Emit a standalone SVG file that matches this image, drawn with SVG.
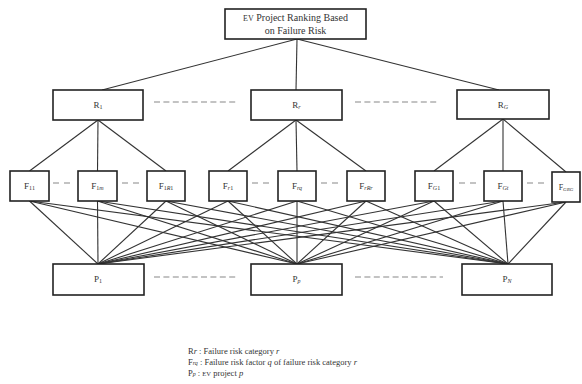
<svg xmlns="http://www.w3.org/2000/svg" width="582" height="384" viewBox="0 0 582 384">
<style>
.box{fill:#fff;stroke:#222;stroke-width:1.6}
.ln{stroke:#333;stroke-width:1.1;fill:none}
.dash{stroke:#888;stroke-width:1.2;stroke-dasharray:6 3.4;fill:none}
.dash2{stroke:#888;stroke-width:1.2;stroke-dasharray:6 5;fill:none}
text{font-family:"Liberation Serif","Times New Roman",serif;fill:#333}
.lbl{font-size:9px;text-anchor:middle}
.sub{font-size:6px}
.it{font-style:italic}
.leg{font-size:8.5px}
</style>
<rect width="582" height="384" fill="#fff"/>
<g id="connectors">
<line class="ln" x1="297" y1="39" x2="102" y2="90"/>
<line class="ln" x1="297" y1="39" x2="296" y2="90"/>
<line class="ln" x1="297" y1="39" x2="499" y2="90"/>
<line class="ln" x1="98" y1="120" x2="29.5" y2="171"/>
<line class="ln" x1="98" y1="120" x2="97.5" y2="171"/>
<line class="ln" x1="98" y1="120" x2="166" y2="171"/>
<line class="ln" x1="296" y1="120" x2="228" y2="171"/>
<line class="ln" x1="296" y1="120" x2="297" y2="171"/>
<line class="ln" x1="296" y1="120" x2="366" y2="171"/>
<line class="ln" x1="503" y1="119" x2="434" y2="171"/>
<line class="ln" x1="503" y1="119" x2="503" y2="171"/>
<line class="ln" x1="503" y1="119" x2="566" y2="172"/>
<g>
<line class="ln" x1="29.5" y1="201" x2="98" y2="264"/><line class="ln" x1="29.5" y1="201" x2="297" y2="264"/><line class="ln" x1="29.5" y1="201" x2="508" y2="264"/>
<line class="ln" x1="97.5" y1="201" x2="98" y2="264"/><line class="ln" x1="97.5" y1="201" x2="297" y2="264"/><line class="ln" x1="97.5" y1="201" x2="508" y2="264"/>
<line class="ln" x1="166" y1="201" x2="98" y2="264"/><line class="ln" x1="166" y1="201" x2="297" y2="264"/><line class="ln" x1="166" y1="201" x2="508" y2="264"/>
<line class="ln" x1="228" y1="201" x2="98" y2="264"/><line class="ln" x1="228" y1="201" x2="297" y2="264"/><line class="ln" x1="228" y1="201" x2="508" y2="264"/>
<line class="ln" x1="297" y1="201" x2="98" y2="264"/><line class="ln" x1="297" y1="201" x2="297" y2="264"/><line class="ln" x1="297" y1="201" x2="508" y2="264"/>
<line class="ln" x1="366" y1="201" x2="98" y2="264"/><line class="ln" x1="366" y1="201" x2="297" y2="264"/><line class="ln" x1="366" y1="201" x2="508" y2="264"/>
<line class="ln" x1="434" y1="201" x2="98" y2="264"/><line class="ln" x1="434" y1="201" x2="297" y2="264"/><line class="ln" x1="434" y1="201" x2="508" y2="264"/>
<line class="ln" x1="503" y1="201" x2="98" y2="264"/><line class="ln" x1="503" y1="201" x2="297" y2="264"/><line class="ln" x1="503" y1="201" x2="508" y2="264"/>
<line class="ln" x1="566" y1="202" x2="98" y2="264"/><line class="ln" x1="566" y1="202" x2="297" y2="264"/><line class="ln" x1="566" y1="202" x2="508" y2="264"/>
</g>
<line class="dash" x1="154" y1="102" x2="238" y2="102"/>
<line class="dash" x1="355" y1="102" x2="439" y2="102"/>
<line class="dash2" x1="53" y1="183" x2="70" y2="183"/>
<line class="dash2" x1="122" y1="183" x2="139" y2="183"/>
<line class="dash2" x1="252" y1="183" x2="269" y2="183"/>
<line class="dash2" x1="321" y1="183" x2="338" y2="183"/>
<line class="dash2" x1="459" y1="183" x2="476" y2="183"/>
<line class="dash2" x1="527" y1="183" x2="544" y2="183"/>
<line class="dash" x1="154" y1="277" x2="238" y2="277"/>
<line class="dash" x1="355" y1="277" x2="443" y2="277"/>
</g>
<g id="goal">
<rect class="box" x="225" y="9" width="141" height="30"/>
<text class="lbl" x="295.5" y="21" style="font-size:10px"><tspan style="font-size:8px">EV</tspan> Project Ranking Based</text>
<text class="lbl" x="295.5" y="34" style="font-size:10px">on Failure Risk</text>
</g>
<g id="R1"><rect class="box" x="53" y="90" width="90" height="30"/><text class="lbl" x="98" y="108">R<tspan class="sub" dy="1">1</tspan></text></g>
<g id="Rr"><rect class="box" x="251" y="90" width="91" height="30"/><text class="lbl" x="296.5" y="108">R<tspan class="sub it" dy="1">r</tspan></text></g>
<g id="RG"><rect class="box" x="457" y="90" width="92" height="29"/><text class="lbl" x="503" y="108">R<tspan class="sub it" dy="1">G</tspan></text></g>
<g id="F11"><rect class="box" x="10" y="171" width="39" height="30"/><text class="lbl" x="29.5" y="189">F<tspan class="sub" dy="1">11</tspan></text></g>
<g id="F1m"><rect class="box" x="78" y="171" width="39" height="30"/><text class="lbl" x="97.5" y="189">F<tspan class="sub" dy="1">1<tspan class="it">m</tspan></tspan></text></g>
<g id="F1R1"><rect class="box" x="147" y="171" width="38" height="30"/><text class="lbl" x="166" y="189">F<tspan class="sub" dy="1">1<tspan class="it">R</tspan>1</tspan></text></g>
<g id="Fr1"><rect class="box" x="209" y="171" width="38" height="30"/><text class="lbl" x="228" y="189">F<tspan class="sub" dy="1"><tspan class="it">r</tspan>1</tspan></text></g>
<g id="Frq"><rect class="box" x="278" y="171" width="38" height="30"/><text class="lbl" x="297" y="189">F<tspan class="sub it" dy="1">rq</tspan></text></g>
<g id="FrRr"><rect class="box" x="347" y="171" width="38" height="30"/><text class="lbl" x="366" y="189">F<tspan class="sub it" dy="1">rRr</tspan></text></g>
<g id="FG1"><rect class="box" x="415" y="171" width="38" height="30"/><text class="lbl" x="434" y="189">F<tspan class="sub" dy="1"><tspan class="it">G</tspan>1</tspan></text></g>
<g id="FGt"><rect class="box" x="484" y="171" width="38" height="30"/><text class="lbl" x="503" y="189">F<tspan class="sub it" dy="1">Gt</tspan></text></g>
<g id="FGRG"><rect class="box" x="552" y="172" width="28" height="30"/><text class="lbl" x="566" y="190" style="font-size:8px">F<tspan class="it" style="font-size:5px" dy="1">GRG</tspan></text></g>
<g id="P1"><rect class="box" x="53" y="264" width="91" height="31"/><text class="lbl" x="98" y="282">P<tspan class="sub" dy="1">1</tspan></text></g>
<g id="Pp"><rect class="box" x="251" y="264" width="91" height="31"/><text class="lbl" x="296.5" y="282">P<tspan class="sub it" dy="1">p</tspan></text></g>
<g id="PN"><rect class="box" x="462" y="264" width="90" height="31"/><text class="lbl" x="507" y="282">P<tspan class="sub it" dy="1">N</tspan></text></g>
<g id="legend">
<text class="leg" x="188" y="354">R<tspan class="it">r</tspan> : Failure risk category <tspan class="it">r</tspan></text>
<text class="leg" x="188" y="365">F<tspan class="sub it">rq</tspan> : Failure risk factor <tspan class="it">q</tspan> of failure risk category <tspan class="it">r</tspan></text>
<text class="leg" x="188" y="376">P<tspan class="sub it">p</tspan> : <tspan style="font-size:6.5px">EV</tspan> project <tspan class="it">p</tspan></text>
</g>
</svg>
